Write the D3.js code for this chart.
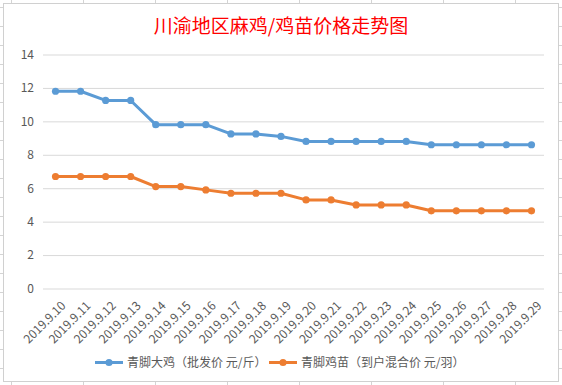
<!DOCTYPE html>
<html lang="zh">
<head>
  <meta charset="utf-8" />
  <script src="https://d3js.org/d3.v7.min.js"></script>
  <style>
    body { margin: 0; background: #fff; }
    text { font-family: "Noto Sans CJK SC", "Noto Sans", sans-serif; }
  </style>
</head>
<body>
  <script>
    var width = 562,
      height = 385;

    var dates = ["2019.9.10", "2019.9.11", "2019.9.12", "2019.9.13", "2019.9.14",
      "2019.9.15", "2019.9.16", "2019.9.17", "2019.9.18", "2019.9.19",
      "2019.9.20", "2019.9.21", "2019.9.22", "2019.9.23", "2019.9.24",
      "2019.9.25", "2019.9.26", "2019.9.27", "2019.9.28", "2019.9.29"];
    var chickenPrice = [11.8, 11.8, 11.25, 11.25, 9.8, 9.8, 9.8, 9.25, 9.25, 9.1,
      8.8, 8.8, 8.8, 8.8, 8.8, 8.6, 8.6, 8.6, 8.6, 8.6];
    var chickPrice = [6.7, 6.7, 6.7, 6.7, 6.1, 6.1, 5.9, 5.7, 5.7, 5.7,
      5.3, 5.3, 5.0, 5.0, 5.0, 4.65, 4.65, 4.65, 4.65, 4.65];
    var yTicks = [0, 2, 4, 6, 8, 10, 12, 14];
    var seriesNames = ["青脚大鸡（批发价 元/斤）", "青脚鸡苗（到户混合价 元/羽）"];
    var title = "川渝地区麻鸡/鸡苗价格走势图";

    var series = [
      { name: seriesNames[0], values: chickenPrice, color: "#5B9BD5" },
      { name: seriesNames[1], values: chickPrice, color: "#ED7D31" }
    ];

    var svg = d3.select("body")
      .append("svg")
      .attr("width", width)
      .attr("height", height);

    // spreadsheet cell lines behind the chart
    var cells = svg.append("g").attr("stroke", "#d4d4d4").attr("stroke-width", 1);
    d3.range(11.5, width, 72).forEach(function (x) {
      cells.append("line").attr("x1", x).attr("x2", x).attr("y1", 0).attr("y2", height);
    });
    d3.range(7.5, height, 19).forEach(function (y) {
      cells.append("line").attr("x1", 0).attr("x2", width).attr("y1", y).attr("y2", y);
    });

    svg.append("rect")
      .attr("x", 3.5).attr("y", 3.5)
      .attr("width", 555).attr("height", 378)
      .attr("fill", "#fff")
      .attr("stroke", "#d0d0d0");

    svg.append("text")
      .attr("x", 281).attr("y", 33)
      .attr("text-anchor", "middle")
      .attr("fill", "#ff0000")
      .style("font-size", "19px")
      .text(title);

    var margin = { left: 43, right: 18, top: 54.5, bottom: 96.5 };

    var x = d3.scaleBand()
      .domain(dates)
      .range([margin.left, width - margin.right]);

    var y = d3.scaleLinear()
      .domain([0, 14])
      .range([height - margin.bottom, margin.top]);

    var yAxis = svg.append("g")
      .attr("transform", "translate(" + margin.left + ",0)")
      .call(d3.axisLeft(y).tickValues(yTicks).tickSize(-(width - margin.left - margin.right)).tickPadding(9));
    yAxis.select(".domain").remove();
    yAxis.selectAll("line").attr("stroke", "#d9d9d9");
    yAxis.selectAll("text")
      .attr("fill", "#595959")
      .style("font-size", "12px");

    var cx = function (d, i) { return x(dates[i]) + x.bandwidth() / 2; };

    svg.append("g")
      .selectAll("text")
      .data(dates)
      .enter().append("text")
      .attr("transform", function (d, i) {
        return "translate(" + (cx(d, i) + 11) + "," + (y(0) + 18) + ") rotate(-45)";
      })
      .attr("text-anchor", "end")
      .attr("fill", "#595959")
      .style("font-size", "12px")
      .text(function (d) { return d; });

    var line = d3.line()
      .x(function (d, i) { return cx(d, i); })
      .y(function (d) { return y(d); });

    series.forEach(function (s) {
      var g = svg.append("g");
      g.append("path")
        .datum(s.values)
        .attr("d", line)
        .attr("fill", "none")
        .attr("stroke", s.color)
        .attr("stroke-width", 3)
        .attr("stroke-linejoin", "round");
      g.selectAll("circle")
        .data(s.values)
        .enter().append("circle")
        .attr("cx", cx)
        .attr("cy", function (d) { return y(d); })
        .attr("r", 3.6)
        .attr("fill", s.color);
    });

    var legendX = [95, 269];
    var legend = svg.append("g")
      .selectAll("g")
      .data(series)
      .enter().append("g")
      .attr("transform", function (d, i) { return "translate(" + legendX[i] + ",362.5)"; });
    legend.append("line")
      .attr("x1", 0).attr("x2", 28)
      .attr("stroke", function (d) { return d.color; })
      .attr("stroke-width", 3);
    legend.append("circle")
      .attr("cx", 14).attr("r", 3.6)
      .attr("fill", function (d) { return d.color; });
    legend.append("text")
      .attr("x", 32).attr("dy", "0.35em")
      .attr("fill", "#595959")
      .style("font-size", "12px")
      .text(function (d) { return d.name; });
  </script>
</body>
</html>
